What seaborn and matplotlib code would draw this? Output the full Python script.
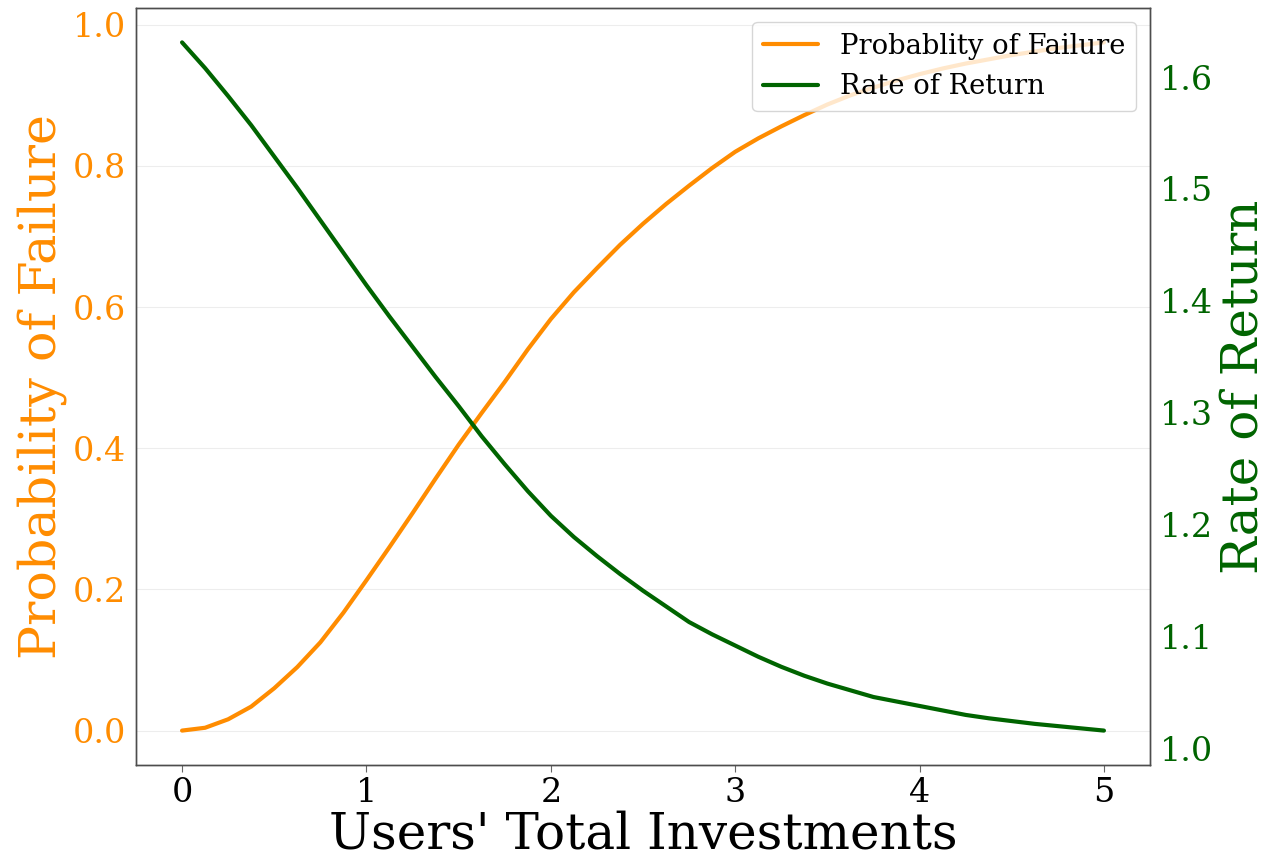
import seaborn as sns
import matplotlib.pyplot as plt
import pandas as pd

# values
investments = [0.0, 0.125, 0.25, 0.375, 0.5, 0.625, 0.75, 0.875, 1.0, 1.125, 1.25, 1.375,
               1.5, 1.625, 1.75, 1.875, 2.0, 2.125, 2.25, 2.375, 2.5, 2.625, 2.75, 2.875,
               3.0, 3.125, 3.25, 3.375, 3.5, 3.625, 3.75, 3.875, 4.0, 4.125, 4.25, 4.375,
               4.5, 4.625, 4.75, 4.875, 5.0]
prob_failure = [0.0, 0.004, 0.016, 0.034, 0.06, 0.09, 0.125, 0.167, 0.213, 0.26, 0.308, 0.357,
                0.405, 0.45, 0.494, 0.54, 0.583, 0.621, 0.655, 0.688, 0.718, 0.746, 0.772, 0.797,
                0.82, 0.839, 0.856, 0.872, 0.887, 0.900, 0.911, 0.921, 0.930, 0.938, 0.945, 0.951,
                0.957, 0.962, 0.967, 0.971, 0.975]
rate_of_return = [1.631, 1.608, 1.583, 1.557, 1.529, 1.501, 1.472, 1.443, 1.414, 1.386, 1.359, 1.332,
                  1.306, 1.279, 1.254, 1.230, 1.208, 1.189, 1.172, 1.156, 1.141, 1.127, 1.113, 1.102,
                  1.092, 1.082, 1.073, 1.065, 1.058, 1.052, 1.046, 1.042, 1.038, 1.034, 1.030, 1.027,
                  1.0245, 1.022, 1.020, 1.018, 1.016]

df = pd.DataFrame({"x": investments, "pf": prob_failure, "rr": rate_of_return})

sns.set_style("whitegrid")
plt.rcParams["font.family"] = ["DejaVu Serif"]
plt.rcParams["text.color"] = "black"
plt.rcParams["axes.labelcolor"] = "black"

fig = plt.figure(figsize=(12.66, 8.58), dpi=100)
ax = fig.add_subplot(111)
fig.subplots_adjust(left=0.1074, right=0.9084, top=0.9907, bottom=0.1084)

sns.lineplot(data=df, x="x", y="pf", ax=ax, color="darkorange", linewidth=3,
             label="Probablity of Failure", legend=False)
ax2 = ax.twinx()
sns.lineplot(data=df, x="x", y="rr", ax=ax2, color="darkgreen", linewidth=3,
             label="Rate of Return", legend=False)

# grid only for the left axis, horizontal
ax.grid(False)
ax.yaxis.grid(True, color="0.93", linewidth=0.8)
ax2.grid(False)

ax.set_xlabel("Users' Total Investments", fontsize=36, color="black", labelpad=1)
ax.set_ylabel("Probability of Failure", fontsize=36.5, color="darkorange")
ax2.set_ylabel("Rate of Return", fontsize=36, color="darkgreen")

ax.tick_params(axis="x", labelsize=24, labelcolor="black", bottom=True, length=5, color="0.4")
ax.tick_params(axis="y", labelsize=24, labelcolor="darkorange", left=False)
ax2.tick_params(axis="y", labelsize=24, labelcolor="darkgreen", right=False)

for a in (ax, ax2):
    for s in a.spines.values():
        s.set_color("0.3")
        s.set_linewidth(1)

h1, l1 = ax.get_legend_handles_labels()
h2, l2 = ax2.get_legend_handles_labels()
ax2.legend(h1 + h2, l1 + l2, loc="upper right", fontsize=19.7, framealpha=0.8)

plt.savefig("out.png", dpi=100)
